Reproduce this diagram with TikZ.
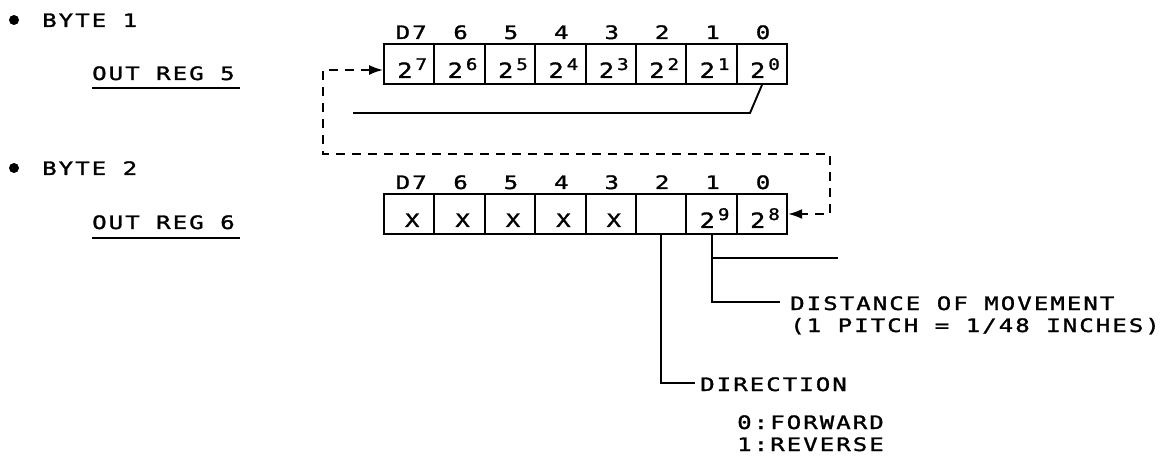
\documentclass[tikz,border=0pt]{standalone}
\usepackage{fontspec}
\newfontfamily\pf[FakeStretch=1.3, FakeBold=1.5, LetterSpace=11]{DejaVu Sans Mono}
\newfontfamily\pfn[FakeStretch=1.2, FakeBold=1.5]{DejaVu Sans Mono}
\usetikzlibrary{arrows.meta}
\newcommand\pw[1]{\pfn\fontsize{21}{22}\selectfont 2\hspace{3pt}\raisebox{8pt}{\fontsize{16}{16}\selectfont #1}}
\begin{document}
\begin{tikzpicture}[x=1pt,y=-1pt,
  txt/.style={font=\pf\fontsize{18.5}{22}\selectfont, inner sep=0pt},
  cell/.style={draw, line width=1.9pt, minimum width=50.4pt, minimum height=40pt, inner sep=0pt},
  wire/.style={line width=1.9pt},
  dashwire/.style={line width=1.9pt, dash pattern=on 9pt off 7pt},
  tips/.style={{Latex[length=14pt,width=10pt]}-{Latex[length=14pt,width=10pt]}}]
\useasboundingbox (0,0) rectangle (1167,462);

% left labels
\fill (14,20) circle (5);
\node[txt, anchor=base west] (b1) at (42,27) {BYTE 1};
\node[txt, anchor=base west] (o5) at (92,80) {OUT REG 5};
\draw[wire] (92,88) -- (240,88);
\fill (14,168) circle (5);
\node[txt, anchor=base west] (b2) at (42,175) {BYTE 2};
\node[txt, anchor=base west] (o6) at (92,229) {OUT REG 6};
\draw[wire] (92,238) -- (240,238);

% register 1
\foreach \b in {7,...,0}{
  \node[cell] (ra\b) at ({384+(7-\b+0.5)*50.4},64) {};
  \node[inner sep=0pt, anchor=base] at ({384+(7-\b+0.5)*50.4+3},78) {\pw{\b}};
}
\node[txt, anchor=base] at ({384+0.5*50.4+2},39) {D7};
\foreach \b in {6,...,0}{
  \node[txt, anchor=base] at ({384+(7-\b+0.5)*50.4+1},39) {\b};
}

% register 2
\foreach \b in {7,...,0}{
  \node[cell] (rb\b) at ({384+(7-\b+0.5)*50.4},214) {};
}
\foreach \b in {7,...,3}{
  \node[txt, anchor=base] at ({384+(7-\b+0.5)*50.4+3},227) {X};
}
\node[inner sep=0pt, anchor=base] at ({384+6.5*50.4+3},228) {\pw{9}};
\node[inner sep=0pt, anchor=base] at ({384+7.5*50.4+3},228) {\pw{8}};
\node[txt, anchor=base] at ({384+0.5*50.4+2},189) {D7};
\foreach \b in {6,...,0}{
  \node[txt, anchor=base] at ({384+(7-\b+0.5)*50.4+1},189) {\b};
}

% solid line under register 1
\coordinate (s1) at (353,113);
\coordinate (s2) at (750,113);
\draw[wire] (s1) -- (s2) -- (ra0.south);

% dashed loop
\coordinate (d1) at (323,70);
\coordinate (d2) at (323,154);
\coordinate (d3) at (830,154);
\coordinate (d4) at (830,214);
\draw[dashwire, tips] ([yshift=-6pt]ra7.west) -- (d1) -- (d2) -- (d3) -- (d4) -- (rb0.east);

% output lines
\coordinate (e1) at (838,258);
\draw[wire] (rb1.south) |- (780,302) coordinate (e2);
\draw[wire] (rb1.south |- e1) -- (e1);
\draw[wire] (rb2.south) |- (695,383) coordinate (e3);

\node[txt, anchor=base west] (dist) at (790,310) {DISTANCE OF MOVEMENT};
\node[txt, anchor=base west] (pitch) at (790,332) {(1 PITCH = 1/48 INCHES)};
\node[txt, anchor=base west] (dir) at (700,391) {DIRECTION};
\node[txt, anchor=base west] (fw) at (737,429) {0:FORWARD};
\node[txt, anchor=base west] (rv) at (737,451) {1:REVERSE};
\end{tikzpicture}
\end{document}
